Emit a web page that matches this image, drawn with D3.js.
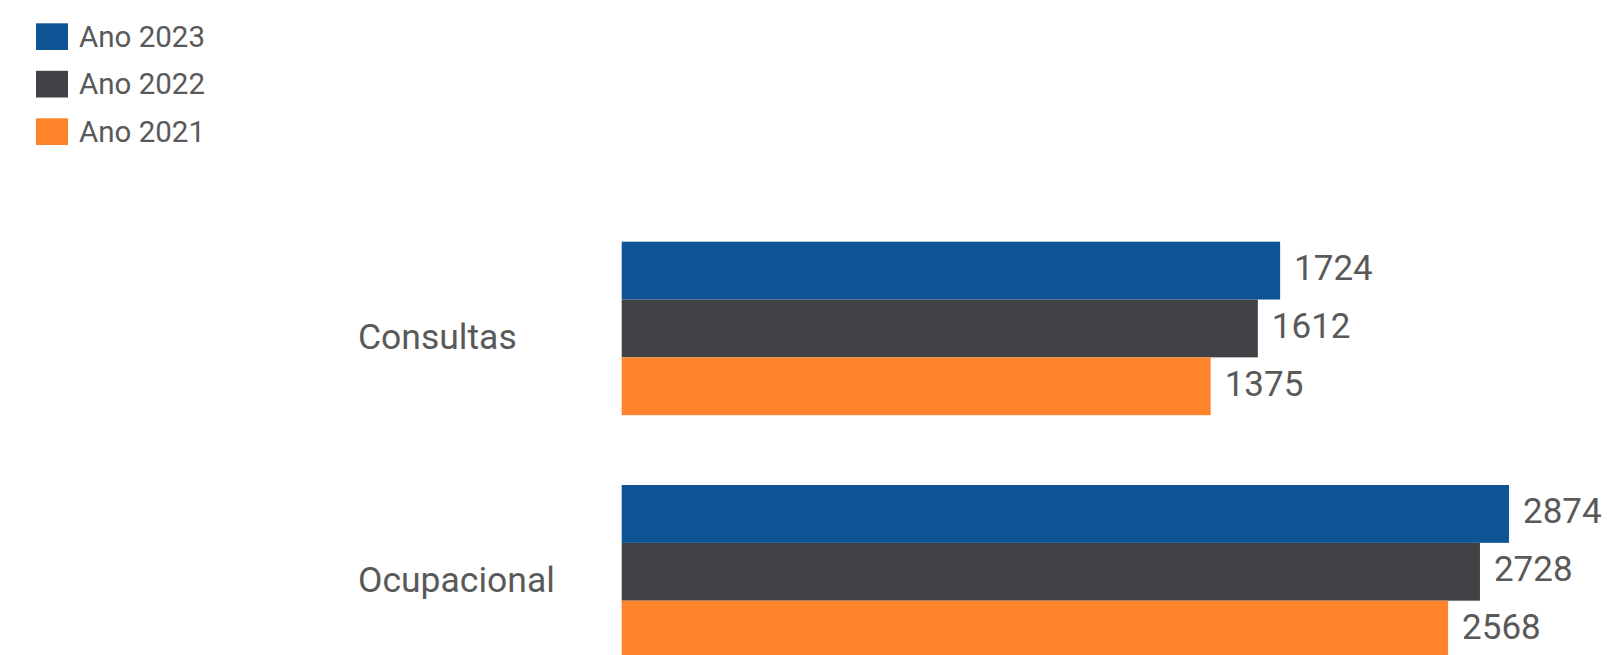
<!DOCTYPE html>
<html>
<head>
<meta charset="utf-8">
<script src="https://cdn.jsdelivr.net/npm/d3@7"></script>
<style>
  html, body { margin: 0; padding: 0; background: #ffffff; }
  svg { display: block; }
  text { font-family: Roboto, "Noto Sans", sans-serif; fill: #595959; }
</style>
</head>
<body>
<svg id="chart" width="1609" height="655"></svg>
<script>
const categories = ["Consultas", "Ocupacional"];
const seriesNames = ["Ano 2023", "Ano 2022", "Ano 2021"];
const values2023 = [1724, 2874];
const values2022 = [1612, 2728];
const values2021 = [1375, 2568];
const seriesColors = ["#0E5494", "#414246", "#FF832B"];

const seriesValues = [values2023, values2022, values2021];

const svg = d3.select("#chart");
const W = 1609, H = 655;

svg.append("rect").attr("width", W).attr("height", H).attr("fill", "#ffffff");

// Scales
const x = d3.scaleLinear().domain([-1584, 3000]).range([621.7, 1534.1]);
const y0 = d3.scaleBand().domain(categories).range([241.7, 658.5]).paddingInner(0.287).paddingOuter(0);
const y1 = d3.scaleBand().domain(seriesNames).range([0, y0.bandwidth()]).padding(0);
const color = d3.scaleOrdinal().domain(seriesNames).range(seriesColors);

const data = categories.map((c, ci) => ({
  category: c,
  items: seriesNames.map((s, si) => ({ series: s, value: seriesValues[si][ci] }))
}));

const groups = svg.append("g").selectAll("g.group")
  .data(data).join("g")
  .attr("class", "group")
  .attr("transform", d => `translate(0,${y0(d.category)})`);

groups.selectAll("rect")
  .data(d => d.items).join("rect")
  .attr("x", x.range()[0])
  .attr("y", d => y1(d.series))
  .attr("height", y1.bandwidth())
  .attr("width", d => x(d.value) - x.range()[0])
  .attr("fill", d => color(d.series));

groups.selectAll("text.val")
  .data(d => d.items).join("text")
  .attr("class", "val")
  .attr("x", d => x(d.value) + 14)
  .attr("y", d => y1(d.series) + y1.bandwidth() / 2 - 2)
  .attr("dominant-baseline", "central")
  .style("font-size", "35px")
  .text(d => d.value);

// Category labels
svg.append("g").selectAll("text.cat")
  .data(categories).join("text")
  .attr("class", "cat")
  .attr("x", 358)
  .attr("y", d => y0(d) + y0.bandwidth() / 2 + 8.5)
  .attr("dominant-baseline", "central")
  .style("font-size", "35.5px")
  .text(d => d);

// Legend
const legend = svg.append("g").selectAll("g.leg")
  .data(seriesNames).join("g")
  .attr("class", "leg")
  .attr("transform", (d, i) => `translate(36,${23.3 + i * 47.5})`);

legend.append("rect")
  .attr("width", 32).attr("height", 26.7)
  .attr("fill", d => color(d));

legend.append("text")
  .attr("x", 43)
  .attr("y", 13.5)
  .attr("dominant-baseline", "central")
  .style("font-size", "29.5px")
  .text(d => d);
</script>
</body>
</html>
